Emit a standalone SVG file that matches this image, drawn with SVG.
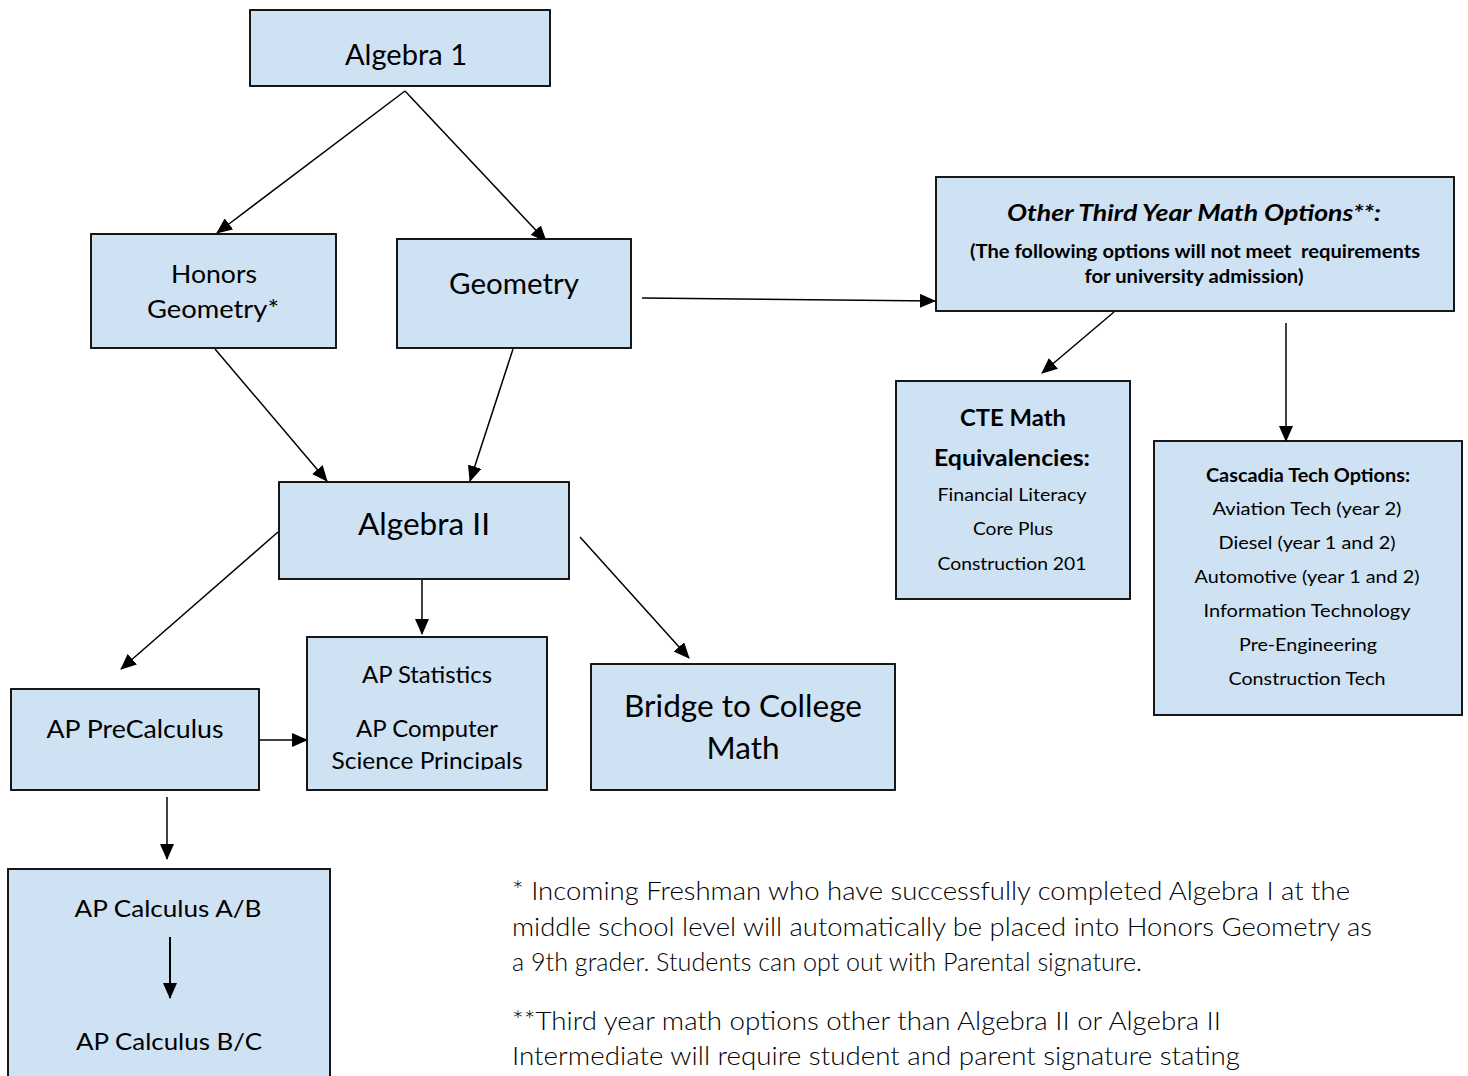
<svg xmlns="http://www.w3.org/2000/svg" width="1468" height="1076" viewBox="0 0 1468 1076">
<style>
.box{fill:#cfe2f3;stroke:#000;stroke-width:1.8}
.t{font-family:Lato,"Liberation Sans",sans-serif;fill:#000;text-anchor:middle}
.b{font-weight:bold}
.fn{font-family:Lato,"Liberation Sans",sans-serif;font-weight:300;fill:#000;font-size:25px}
.c{stroke:#000;stroke-width:1.5;fill:none;marker-end:url(#ah)}
</style>
<defs>
<marker id="ah" markerUnits="userSpaceOnUse" markerWidth="16" markerHeight="14" refX="15" refY="7" orient="auto">
<path d="M0,0 L16,7 L0,14 Z" fill="#000"/>
</marker>
<clipPath id="clipStats"><rect x="307" y="637" width="240" height="133"/></clipPath>
</defs>
<rect width="1468" height="1076" fill="#fff"/>
<g id="connectors">
<line class="c" x1="405" y1="91" x2="217" y2="233"/>
<line class="c" x1="405" y1="91" x2="546" y2="241"/>
<line class="c" x1="215" y1="349" x2="327" y2="481"/>
<line class="c" x1="513" y1="349" x2="470" y2="481"/>
<line class="c" x1="642" y1="298" x2="935" y2="301"/>
<line class="c" x1="1114" y1="312" x2="1042" y2="373"/>
<line class="c" x1="1286" y1="323" x2="1286" y2="441"/>
<line class="c" x1="278" y1="532" x2="121" y2="669"/>
<line class="c" x1="422" y1="580" x2="422" y2="634"/>
<line class="c" x1="580" y1="537" x2="689" y2="658"/>
<line class="c" x1="259" y1="740" x2="307" y2="740"/>
<line class="c" x1="167" y1="797" x2="167" y2="859"/>
</g>
<g id="algebra1">
<rect class="box" x="250" y="10" width="300" height="76"/>
<text class="t" x="406" y="65" font-size="28" textLength="122" lengthAdjust="spacingAndGlyphs">Algebra 1</text>
</g>
<g id="honors-geometry">
<rect class="box" x="91" y="234" width="245" height="114"/>
<text class="t" x="214" y="283" font-size="25.5" textLength="86" lengthAdjust="spacingAndGlyphs">Honors</text>
<text class="t" x="213" y="318" font-size="25.5" textLength="132" lengthAdjust="spacingAndGlyphs">Geometry*</text>
</g>
<g id="geometry">
<rect class="box" x="397" y="239" width="234" height="109"/>
<text class="t" x="514" y="294" font-size="29" textLength="130" lengthAdjust="spacingAndGlyphs">Geometry</text>
</g>
<g id="other-options">
<rect class="box" x="936" y="177" width="518" height="134"/>
<text class="t b" x="1194" y="221" font-size="23" font-style="italic" textLength="374" lengthAdjust="spacingAndGlyphs">Other Third Year Math Options**:</text>
<text class="t b" x="1195" y="258" font-size="18" textLength="450" lengthAdjust="spacingAndGlyphs" xml:space="preserve">(The following options will not meet  requirements</text>
<text class="t b" x="1194" y="283" font-size="18" textLength="219" lengthAdjust="spacingAndGlyphs">for university admission)</text>
</g>
<g id="cte">
<rect class="box" x="896" y="381" width="234" height="218"/>
<text class="t b" x="1013" y="426" font-size="22.5" textLength="106" lengthAdjust="spacingAndGlyphs">CTE Math</text>
<text class="t b" x="1012" y="466" font-size="22.5" textLength="156" lengthAdjust="spacingAndGlyphs">Equivalencies:</text>
<text class="t" x="1012" y="501" font-size="18" textLength="149" lengthAdjust="spacingAndGlyphs">Financial Literacy</text>
<text class="t" x="1013" y="535" font-size="18" textLength="80" lengthAdjust="spacingAndGlyphs">Core Plus</text>
<text class="t" x="1012" y="570" font-size="18" textLength="149" lengthAdjust="spacingAndGlyphs">Construction 201</text>
</g>
<g id="cascadia">
<rect class="box" x="1154" y="441" width="308" height="274"/>
<text class="t b" x="1308" y="482" font-size="18" textLength="204" lengthAdjust="spacingAndGlyphs">Cascadia Tech Options:</text>
<text class="t" x="1307" y="515" font-size="18" textLength="189" lengthAdjust="spacingAndGlyphs">Aviation Tech (year 2)</text>
<text class="t" x="1307" y="549" font-size="18" textLength="177" lengthAdjust="spacingAndGlyphs">Diesel (year 1 and 2)</text>
<text class="t" x="1307" y="583" font-size="18" textLength="225" lengthAdjust="spacingAndGlyphs">Automotive (year 1 and 2)</text>
<text class="t" x="1307" y="617" font-size="18" textLength="207" lengthAdjust="spacingAndGlyphs">Information Technology</text>
<text class="t" x="1308" y="651" font-size="18" textLength="138" lengthAdjust="spacingAndGlyphs">Pre-Engineering</text>
<text class="t" x="1307" y="685" font-size="18" textLength="157" lengthAdjust="spacingAndGlyphs">Construction Tech</text>
</g>
<g id="algebra2">
<rect class="box" x="279" y="482" width="290" height="97"/>
<text class="t" x="424" y="535" font-size="30" textLength="132" lengthAdjust="spacingAndGlyphs">Algebra II</text>
</g>
<g id="ap-precalc">
<rect class="box" x="11" y="689" width="248" height="101"/>
<text class="t" x="135" y="738" font-size="25.5" textLength="177" lengthAdjust="spacingAndGlyphs">AP PreCalculus</text>
</g>
<g id="ap-stats">
<rect class="box" x="307" y="637" width="240" height="153"/>
<g clip-path="url(#clipStats)">
<text class="t" x="427" y="683" font-size="23.5" textLength="130" lengthAdjust="spacingAndGlyphs">AP Statistics</text>
<text class="t" x="427" y="737" font-size="23.5" textLength="142" lengthAdjust="spacingAndGlyphs">AP Computer</text>
<text class="t" x="427" y="769" font-size="23.5" textLength="191" lengthAdjust="spacingAndGlyphs">Science Principals</text>
</g>
</g>
<g id="bridge">
<rect class="box" x="591" y="664" width="304" height="126"/>
<text class="t" x="743" y="717" font-size="31" textLength="238" lengthAdjust="spacingAndGlyphs">Bridge to College</text>
<text class="t" x="743" y="759" font-size="31" textLength="73" lengthAdjust="spacingAndGlyphs">Math</text>
</g>
<g id="ap-calc">
<rect class="box" x="8" y="869" width="322" height="220"/>
<text class="t" x="168" y="917" font-size="23.5" textLength="187" lengthAdjust="spacingAndGlyphs">AP Calculus A/B</text>
<line x1="170" y1="937" x2="170" y2="998" stroke="#000" stroke-width="2" marker-end="url(#ah)"/>
<text class="t" x="169" y="1050" font-size="23.5" textLength="186" lengthAdjust="spacingAndGlyphs">AP Calculus B/C</text>
</g>
<g id="footnotes">
<text class="fn" x="512" y="900" textLength="838" lengthAdjust="spacingAndGlyphs">* Incoming Freshman who have successfully completed Algebra I at the</text>
<text class="fn" x="512" y="936" textLength="860" lengthAdjust="spacingAndGlyphs">middle school level will automatically be placed into Honors Geometry as</text>
<text class="fn" x="512" y="971" textLength="630" lengthAdjust="spacingAndGlyphs">a 9th grader. Students can opt out with Parental signature.</text>
<text class="fn" x="512" y="1030" textLength="709" lengthAdjust="spacingAndGlyphs">**Third year math options other than Algebra II or Algebra II</text>
<text class="fn" x="512" y="1065" textLength="728" lengthAdjust="spacingAndGlyphs">Intermediate will require student and parent signature stating</text>
</g>
</svg>
